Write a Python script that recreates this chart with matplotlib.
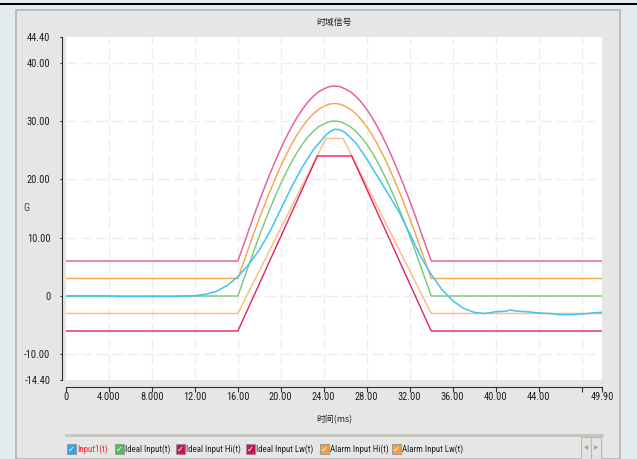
import matplotlib
matplotlib.use('Agg')
import matplotlib.pyplot as plt
from matplotlib import font_manager
from matplotlib.patches import Rectangle
from matplotlib.lines import Line2D

# time axis (ms) and signals (G)
t_ideal = [0, 16, 16.5, 17, 17.5, 18, 18.5, 19, 19.5, 20, 20.5, 21, 21.5, 22, 22.5, 23, 23.5,
           24, 24.5, 25, 25.5, 26, 26.5, 27, 27.5, 28, 28.5, 29, 29.5, 30, 30.5, 31, 31.5, 32,
           32.5, 33, 33.5, 34, 49.9]
ideal = [0, 0, 2.6, 5.2, 7.8, 10.3, 12.7, 15.0, 17.2, 19.3, 21.2, 23.0, 24.6, 26.0, 27.2, 28.2,
         29.0, 29.5, 29.9, 30.0, 29.9, 29.5, 29.0, 28.2, 27.2, 26.0, 24.6, 23.0, 21.2, 19.3,
         17.2, 15.0, 12.7, 10.3, 7.8, 5.2, 2.6, 0, 0]
ideal_hi = [6, 6, 8.6, 11.2, 13.8, 16.3, 18.7, 21.0, 23.2, 25.3, 27.2, 29.0, 30.6, 32.0, 33.2,
            34.2, 35.0, 35.5, 35.9, 36.0, 35.9, 35.5, 35.0, 34.2, 33.2, 32.0, 30.6, 29.0, 27.2,
            25.3, 23.2, 21.0, 18.7, 16.3, 13.8, 11.2, 8.6, 6, 6]
alarm_hi = [3, 3, 5.6, 8.2, 10.8, 13.3, 15.7, 18.0, 20.2, 22.3, 24.2, 26.0, 27.6, 29.0, 30.2,
            31.2, 32.0, 32.5, 32.9, 33.0, 32.9, 32.5, 32.0, 31.2, 30.2, 29.0, 27.6, 26.0, 24.2,
            22.3, 20.2, 18.0, 15.7, 13.3, 10.8, 8.2, 5.6, 3, 3]

t_ideal_lw = [0, 16, 23.4, 26.6, 34, 49.9]
ideal_lw = [-6, -6, 24, 24, -6, -6]
t_alarm_lw = [0, 16, 24.2, 25.8, 34, 49.9]
alarm_lw = [-3, -3, 27, 27, -3, -3]

t_input = [0, 4, 5, 10, 11, 12, 13, 14, 15, 16, 17, 18, 19, 20, 21, 22, 23, 24, 24.5, 25, 25.5,
           26, 27, 28, 29, 30, 31, 32, 33, 34, 35, 36, 37, 38, 39, 40, 41, 41.3, 42, 43, 44, 45,
           46, 47, 48, 49, 49.9]
input1 = [0, 0, -0.1, -0.1, 0, 0.05, 0.3, 0.8, 1.8, 3.3, 5.4, 7.9, 11.1, 14.9, 18.7, 22.1, 25.0,
          27.2, 28.1, 28.6, 28.5, 28.0, 26.2, 23.5, 20.5, 17.5, 14.4, 10.7, 6.8, 3.7, 1.1, -0.8,
          -2.1, -2.8, -3.0, -2.7, -2.6, -2.4, -2.6, -2.7, -2.9, -3.0, -3.2, -3.2, -3.1, -2.9,
          -2.8]

x_ticks = [0, 4, 8, 12, 16, 20, 24, 28, 32, 36, 40, 44, 48, 49.9]
x_labels = ['0', '4.000', '8.000', '12.00', '16.00', '20.00', '24.00', '28.00', '32.00',
            '36.00', '40.00', '44.00', '', '49.90']
y_ticks = [-14.4, -10, 0, 10, 20, 30, 40, 44.4]
y_labels = ['-14.40', '-10.00', '0', '10.00', '20.00', '30.00', '40.00', '44.40']

legend_names = ['Input1(t)', 'Ideal Input(t)', 'Ideal Input Hi(t)', 'Ideal Input Lw(t)',
                'Alarm Input Hi(t)', 'Alarm Input Lw(t)']
legend_box_colors = ['#2ea6e8', '#5cb85c', '#c2185b', '#c2185b', '#f0a040', '#f0a040']
legend_x = [67, 115, 176, 246, 320, 392]

W, H = 637, 459
cjk = ['Noto Sans CJK SC', 'DejaVu Sans']


def font_ok(name):
    try:
        font_manager.findfont(font_manager.FontProperties(family=name), fallback_to_default=False)
        return True
    except ValueError:
        return False


narrow_font = None
for name in ['Liberation Sans Narrow', 'Roboto Condensed', 'Arial Narrow']:
    if font_ok(name):
        narrow_font = name
        break
if narrow_font:
    narrow = [narrow_font, 'DejaVu Sans']
    small = 7.5
    leg_size = 6.4
else:
    narrow = ['Liberation Sans', 'DejaVu Sans']
    small = 6.3
    leg_size = 5.4


def fx(x):
    return x / W


def fy(y):
    return 1 - y / H


fig = plt.figure(figsize=(W / 100, H / 100), dpi=100, facecolor='#e3ebee')

# window chrome
fig.patches.append(Rectangle((0, fy(4.7)), 1, 2 / H, transform=fig.transFigure,
                             facecolor='black', edgecolor='none', zorder=-2))
fig.patches.append(Rectangle((fx(16), 0), fx(620) - fx(16), fy(10), transform=fig.transFigure,
                             facecolor='#e6e6e6', edgecolor='#b4b4b4', lw=1.2, zorder=-2))

ax = fig.add_axes([fx(66), fy(380), fx(602) - fx(66), fy(37) - fy(380)])
ax.set_zorder(1)
ax.set_facecolor('white')
ax.set_xlim(0, 49.9)
ax.set_ylim(-14.4, 44.4)

for x in x_ticks[1:-1]:
    ax.axvline(x, color='#eeeeee', lw=1, ls=(0, (8, 3)), zorder=0)
for y in y_ticks[1:-1]:
    ax.axhline(y, color='#eeeeee', lw=1, ls=(0, (8, 3)), zorder=0)

ax.plot(t_ideal, ideal_hi, color='#e4649a', lw=1.1)
ax.plot(t_ideal, alarm_hi, color='#f5a24a', lw=1.0)
ax.plot(t_ideal, ideal, color='#74c874', lw=1.0)
ax.plot(t_alarm_lw, alarm_lw, color='#f8bf86', lw=1.1)
ax.plot(t_ideal_lw, ideal_lw, color='#e0206a', lw=1.0)
ax.plot(t_input, input1, color='#40c4f4', lw=1.1)

for side in ['top', 'right']:
    ax.spines[side].set_visible(False)
ax.spines['left'].set_position(('outward', 2.7))
ax.spines['bottom'].set_position(('outward', 4.8))
ax.spines['left'].set_color('#303030')
ax.spines['bottom'].set_color('#303030')

ax.set_xticks(x_ticks)
ax.set_xticklabels(x_labels, family=narrow, fontsize=small, color='#202020')
ax.set_yticks(y_ticks)
ax.set_yticklabels(y_labels, family=narrow, fontsize=small, color='#202020')
ax.tick_params(axis='x', direction='out', length=3.5, width=0.8, pad=0, colors='#303030')
ax.tick_params(axis='y', direction='out', length=1.5, width=0.8, pad=7, colors='#303030')
for lbl in ax.get_xticklabels() + ax.get_yticklabels():
    lbl.set_color('#202020')

fig.text(fx(334), fy(22), '时域信号', family=cjk, fontsize=6.4, ha='center', va='center',
         color='#202020')
fig.text(fx(334), fy(420), '时间(ms)', family=cjk, fontsize=6.4, ha='center', va='center',
         color='#202020')
fig.text(fx(26), fy(208), 'G', family=narrow, fontsize=small, ha='center', va='center',
         color='#504030')

# legend strip
fig.lines.append(Line2D([fx(66), fx(602)], [fy(435), fy(435)], transform=fig.transFigure,
                        color='#c4c4b8', lw=2))
for name, col, x0 in zip(legend_names, legend_box_colors, legend_x):
    fig.patches.append(Rectangle((fx(x0), fy(454)), 9 / W, 10 / H, transform=fig.transFigure,
                                 facecolor=col, edgecolor='#8a8a8a', lw=0.5))
    fig.text(fx(x0 + 4.5), fy(449), '✓', fontsize=6, color='white', ha='center',
             va='center', weight='bold', family='DejaVu Sans')
    fig.text(fx(x0 + 10), fy(449), name, family=narrow, fontsize=leg_size, ha='left',
             va='center', color='#ff2020' if name == 'Input1(t)' else '#202020')

# scroll buttons
for x0 in [581, 591]:
    fig.patches.append(Rectangle((fx(x0), 0), 10 / W, 22 / H, transform=fig.transFigure,
                                 facecolor='#e4e4e4', edgecolor='#b8b8b8', lw=0.8))
fig.text(fx(586), fy(448), '◀', fontsize=4, color='#a0a0a0', ha='center', va='center')
fig.text(fx(596), fy(448), '▶', fontsize=4, color='#a0a0a0', ha='center', va='center')

fig.savefig('out.png', dpi=100, facecolor=fig.get_facecolor())
